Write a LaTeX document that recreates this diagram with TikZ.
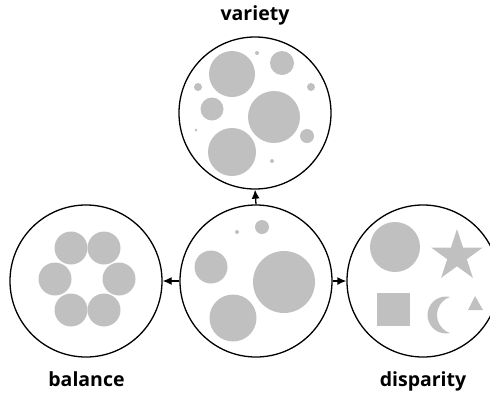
\documentclass[tikz,border=0pt]{standalone}
\usepackage{fontspec}
\setsansfont{Open Sans}
\usetikzlibrary{arrows.meta}
\definecolor{shp}{RGB}{192,192,192}
\tikzset{
  ring/.style={circle, draw=black, line width=1.3pt, minimum size=152pt, inner sep=0pt},
  conn/.style={line width=1.3pt, -{Latex[length=9pt,width=8pt]}},
  lbl/.style={font=\sffamily\bfseries\fontsize{19.5}{19.5}\selectfont, anchor=base, inner sep=0pt},
  blob/.style={fill=shp}
}
\begin{document}
\begin{tikzpicture}[x=1pt,y=-1pt]
\useasboundingbox (0,0) rectangle (490,392);
% rings
\node[ring] (top) at (255,113) {};
\node[ring] (mid) at (256,281) {};
\node[ring] (left) at (86,281) {};
\node[ring] (right) at (423,281) {};
% connectors
\draw[conn] (mid.north) -- (top.south);
\draw[conn] (mid.west) -- (left.east);
\draw[conn] (mid.east) -- (right.west);
% labels
\node[lbl] (lvar) at (255,20) {variety};
\node[lbl] (lbal) at (86.5,386) {balance};
\node[lbl] (ldis) at (423,386) {disparity};
% variety contents
\fill[blob] (232,74) circle (23);
\fill[blob] (257,53) circle (2);
\fill[blob] (282,63) circle (12);
\fill[blob] (198,87) circle (4);
\fill[blob] (311,87) circle (4);
\fill[blob] (212,109) circle (11.5);
\fill[blob] (274,117) circle (26);
\fill[blob] (196,130) circle (1.5);
\fill[blob] (307,136) circle (7);
\fill[blob] (232,152) circle (24);
\fill[blob] (272,161) circle (2);
% middle contents
\fill[blob] (237,232) circle (2);
\fill[blob] (262,227) circle (7);
\fill[blob] (211,267) circle (16.5);
\fill[blob] (284,282) circle (31);
\fill[blob] (233,318) circle (23.5);
% balance contents
\foreach \p in {(71,248),(104,248),(55,279),(119,279),(71,310),(104,310)}
  \fill[blob] \p circle (16.5);
% disparity contents
\fill[blob] (395,247) circle (25);
\fill[blob] (457,256) +(-90:27) -- +(-54:10.3) -- +(-18:27) -- +(18:10.3) -- +(54:27)
  -- +(90:10.3) -- +(126:27) -- +(162:10.3) -- +(198:27) -- +(234:10.3) -- cycle;
\fill[blob] (377,293) rectangle (410,326);
\fill[blob] (450.06,296.95) arc[start angle=-77.3, end angle=-282.7, radius=18.5]
  arc[start angle=108.2, end angle=251.8, radius=19] -- cycle;
\fill[blob] (475,296) -- (483,310) -- (468,310) -- cycle;
\end{tikzpicture}
\end{document}
